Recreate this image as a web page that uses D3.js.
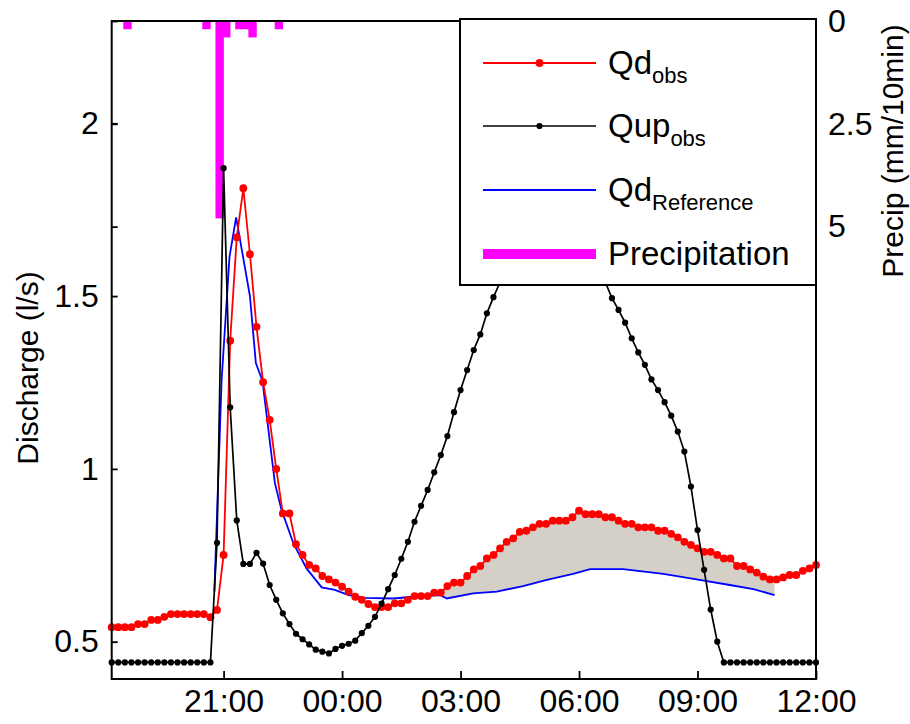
<!DOCTYPE html>
<html>
<head>
<meta charset="utf-8">
<script src="https://cdn.jsdelivr.net/npm/d3@7"></script>
<style>
  body { margin: 0; background: #fff; }
  svg text { font-family: Arial, "Liberation Sans", Helvetica, sans-serif; fill: #000; }
</style>
</head>
<body>
<div id="chart"></div>
<script>
// observed series, one value every 10 minutes from 18:10 to 12:00
var startTime = "18:10";
var stepMinutes = 10;

var qdObs = [0.542, 0.542, 0.542, 0.542, 0.551, 0.551, 0.563, 0.563, 0.572, 0.580,
  0.580, 0.580, 0.580, 0.580, 0.580, 0.571, 0.592, 0.751, 1.371, 1.670,
  1.812, 1.621, 1.411, 1.251, 1.142, 1.000, 0.871, 0.871, 0.782, 0.751,
  0.722, 0.712, 0.690, 0.680, 0.671, 0.659, 0.645, 0.630, 0.621, 0.609,
  0.600, 0.600, 0.600, 0.611, 0.611, 0.621, 0.632, 0.632, 0.632, 0.642,
  0.642, 0.661, 0.671, 0.671, 0.690, 0.709, 0.719, 0.741, 0.751, 0.770,
  0.789, 0.799, 0.818, 0.821, 0.831, 0.841, 0.841, 0.850, 0.850, 0.850,
  0.860, 0.879, 0.869, 0.869, 0.869, 0.860, 0.860, 0.850, 0.841, 0.841,
  0.831, 0.831, 0.831, 0.821, 0.821, 0.812, 0.802, 0.789, 0.780, 0.770,
  0.760, 0.760, 0.751, 0.741, 0.741, 0.719, 0.719, 0.709, 0.700, 0.688,
  0.680, 0.680, 0.686, 0.693, 0.693, 0.705, 0.712, 0.722];

var qupObs = [0.44, 0.44, 0.44, 0.44, 0.44, 0.44, 0.44, 0.44, 0.44, 0.44,
  0.44, 0.44, 0.44, 0.44, 0.44, 0.44, 0.786, 1.870, 1.178, 0.851,
  0.725, 0.725, 0.757, 0.726, 0.664, 0.621, 0.582, 0.551, 0.523, 0.507,
  0.492, 0.477, 0.471, 0.466, 0.479, 0.488, 0.494, 0.503, 0.525, 0.546,
  0.572, 0.610, 0.652, 0.693, 0.740, 0.789, 0.847, 0.893, 0.939, 0.990,
  1.040, 1.095, 1.164, 1.228, 1.286, 1.344, 1.389, 1.450, 1.497, 1.54,
  1.59, 1.63, 1.67, 1.71, 1.74, 1.77, 1.79, 1.80, 1.80, 1.79,
  1.76, 1.72, 1.68, 1.63, 1.58, 1.54, 1.494, 1.460, 1.423, 1.378,
  1.337, 1.301, 1.259, 1.228, 1.193, 1.154, 1.108, 1.050, 0.949, 0.823,
  0.708, 0.593, 0.500, 0.44, 0.44, 0.44, 0.44, 0.44, 0.44, 0.44,
  0.44, 0.44, 0.44, 0.44, 0.44, 0.44, 0.44, 0.44];

// reference simulation
var refTimes = ["20:46", "20:57", "21:09", "21:19", "21:40", "21:49", "21:59", "22:18",
  "22:28", "22:46", "23:06", "23:29", "23:49", "00:10", "00:35", "01:18", "01:48",
  "02:29", "02:39", "03:19", "03:55", "04:35", "05:11", "05:51", "06:17", "07:07",
  "08:08", "08:54", "09:49", "10:25", "10:57"];
var qdReference = [0.645, 1.257, 1.614, 1.728, 1.50, 1.306, 1.255, 0.958,
  0.881, 0.785, 0.712, 0.657, 0.650, 0.635, 0.627, 0.625, 0.630,
  0.635, 0.625, 0.640, 0.645, 0.661, 0.679, 0.696, 0.710, 0.710,
  0.696, 0.682, 0.664, 0.652, 0.635];

// precipitation (mm/10min)
var precipTimes = ["18:34", "20:34", "20:54", "21:04", "21:24", "21:34", "21:44", "22:24"];
var precipValues = [0.2, 0.2, 4.8, 0.4, 0.2, 0.2, 0.4, 0.2];

var shadeStart = "02:34";

var xTickLabels = ["21:00", "00:00", "03:00", "06:00", "09:00", "12:00"];
var dischargeTicks = [0.5, 1, 1.5, 2];
var precipTicks = [0, 2.5, 5];

// times before noon belong to the next day
function toDate(s) {
  var p = s.split(":");
  var h = +p[0], m = +p[1];
  return new Date(2000, 0, h >= 18 ? 1 : 2, h, m);
}

var t0 = toDate(startTime);
var obsTimes = qdObs.map(function(d, i) { return new Date(t0.getTime() + i * stepMinutes * 60000); });

var width = 910, height = 724;
var pLeft = 111.7, pRight = 816, pTop = 21, pBottom = 679;

var svg = d3.select("#chart").append("svg")
  .attr("width", width)
  .attr("height", height);

var x = d3.scaleTime()
  .domain([t0, toDate("12:00")])
  .range([pLeft, pRight]);
var y = d3.scaleLinear()
  .domain([0.392, 2.296])
  .range([pBottom, pTop]);
var yp = d3.scaleLinear()
  .domain([0, 16])
  .range([pTop, pBottom]);

// precipitation bars hanging from the top
svg.append("g").selectAll("rect")
  .data(precipValues)
  .enter().append("rect")
  .attr("x", function(d, i) { return x(toDate(precipTimes[i])) - 4.2; })
  .attr("y", yp(0))
  .attr("width", 8.4)
  .attr("height", function(d) { return yp(d) - yp(0); })
  .attr("fill", "#ff00ff");

// shaded gap between observed and reference
function valueAt(times, values, t) {
  var i = d3.bisector(function(d) { return d; }).left(times, t);
  if (i <= 0) return values[0];
  if (i >= times.length) return values[values.length - 1];
  var a = times[i - 1], b = times[i];
  var f = (t - a) / (b - a);
  return values[i - 1] + f * (values[i] - values[i - 1]);
}
var refDates = refTimes.map(toDate);
var sA = toDate(shadeStart), sB = refDates[refDates.length - 1];
var poly = [[sA, valueAt(obsTimes, qdObs, sA)]];
obsTimes.forEach(function(t, i) { if (t > sA && t < sB) poly.push([t, qdObs[i]]); });
poly.push([sB, valueAt(obsTimes, qdObs, sB)]);
for (var k = refDates.length - 1; k >= 0; k--) {
  if (refDates[k] >= sA && refDates[k] <= sB) poly.push([refDates[k], qdReference[k]]);
}
poly.push([sA, valueAt(refDates, qdReference, sA)]);

var line = d3.line()
  .x(function(d) { return x(d[0]); })
  .y(function(d) { return y(d[1]); });

svg.append("path")
  .attr("d", line(poly) + "Z")
  .attr("fill", "#d4d0c8")
  .attr("stroke", "none");

// reference line
svg.append("path")
  .datum(refDates.map(function(t, i) { return [t, qdReference[i]]; }))
  .attr("d", line)
  .attr("fill", "none")
  .attr("stroke", "#0000ff")
  .attr("stroke-width", 1.8);

function drawObs(values, color, r, lw) {
  var pts = values.map(function(v, i) { return [obsTimes[i], v]; });
  var g = svg.append("g");
  g.append("path")
    .datum(pts)
    .attr("d", line)
    .attr("fill", "none")
    .attr("stroke", color)
    .attr("stroke-width", lw);
  g.selectAll("circle")
    .data(pts)
    .enter().append("circle")
    .attr("cx", function(d) { return x(d[0]); })
    .attr("cy", function(d) { return y(d[1]); })
    .attr("r", r)
    .attr("fill", color);
}
drawObs(qdObs, "#ff0000", 3.9, 1.8);
drawObs(qupObs, "#000000", 3.1, 1.7);

// axes
var fontSize = 32;
var xAxis = d3.axisBottom(x)
  .tickValues(xTickLabels.map(toDate))
  .tickFormat(d3.timeFormat("%H:%M"))
  .tickSizeInner(-8).tickSizeOuter(0).tickPadding(10);
var gx = svg.append("g").attr("transform", "translate(0," + pBottom + ")").call(xAxis);

var yAxis = d3.axisLeft(y)
  .tickValues(dischargeTicks)
  .tickFormat(d3.format(""))
  .tickSizeInner(-6).tickSizeOuter(0).tickPadding(13);
var gy = svg.append("g").attr("transform", "translate(" + pLeft + ",0)").call(yAxis);

var ypAxis = d3.axisRight(yp)
  .tickValues(precipTicks)
  .tickFormat(d3.format(""))
  .tickSizeInner(-7).tickSizeOuter(0).tickPadding(12);
var gp = svg.append("g").attr("transform", "translate(" + pRight + ",0)").call(ypAxis);

// precip ticks repeated on the left side
var gpl = svg.append("g").attr("transform", "translate(" + pLeft + ",0)")
  .call(d3.axisLeft(yp).tickValues(precipTicks).tickFormat("").tickSizeInner(-6).tickSizeOuter(0));

[gx, gy, gp, gpl].forEach(function(g) {
  g.selectAll(".domain").remove();
  g.selectAll("line").attr("stroke", "#000").attr("stroke-width", 1.8);
  g.selectAll("text").attr("font-size", fontSize).attr("fill", "#000");
});

// frame
svg.append("rect")
  .attr("x", pLeft).attr("y", pTop)
  .attr("width", pRight - pLeft).attr("height", pBottom - pTop)
  .attr("fill", "none").attr("stroke", "#000").attr("stroke-width", 2);

svg.append("text")
  .attr("transform", "translate(38,368) rotate(-90)")
  .attr("text-anchor", "middle")
  .attr("font-size", 30)
  .text("Discharge (l/s)");

svg.append("text")
  .attr("transform", "translate(903,151) rotate(-90)")
  .attr("text-anchor", "middle")
  .attr("font-size", 30)
  .text("Precip (mm/10min)");

// legend
var legend = svg.append("g");
legend.append("rect")
  .attr("x", 460).attr("y", 19)
  .attr("width", pRight - 460).attr("height", 266)
  .attr("fill", "#fff").attr("stroke", "#000").attr("stroke-width", 2);

var legendRows = [
  { y: 63, color: "#ff0000", width: 1.8, dot: 3.9, main: "Qd", sub: "obs" },
  { y: 126, color: "#000000", width: 1.7, dot: 3.1, main: "Qup", sub: "obs" },
  { y: 190, color: "#0000ff", width: 1.8, dot: 0, main: "Qd", sub: "Reference" },
  { y: 254, color: "#ff00ff", width: 10, dot: 0, main: "Precipitation", sub: "" }
];
legendRows.forEach(function(r) {
  legend.append("line")
    .attr("x1", 483).attr("x2", 596)
    .attr("y1", r.y).attr("y2", r.y)
    .attr("stroke", r.color).attr("stroke-width", r.width);
  if (r.dot) {
    legend.append("circle").attr("cx", 539.5).attr("cy", r.y).attr("r", r.dot).attr("fill", r.color);
  }
  var t = legend.append("text")
    .attr("x", 608).attr("y", r.y + 11)
    .attr("font-size", 33)
    .text(r.main);
  if (r.sub) {
    t.append("tspan").attr("dy", 9).attr("font-size", 22).text(r.sub);
  }
});
</script>
</body>
</html>
